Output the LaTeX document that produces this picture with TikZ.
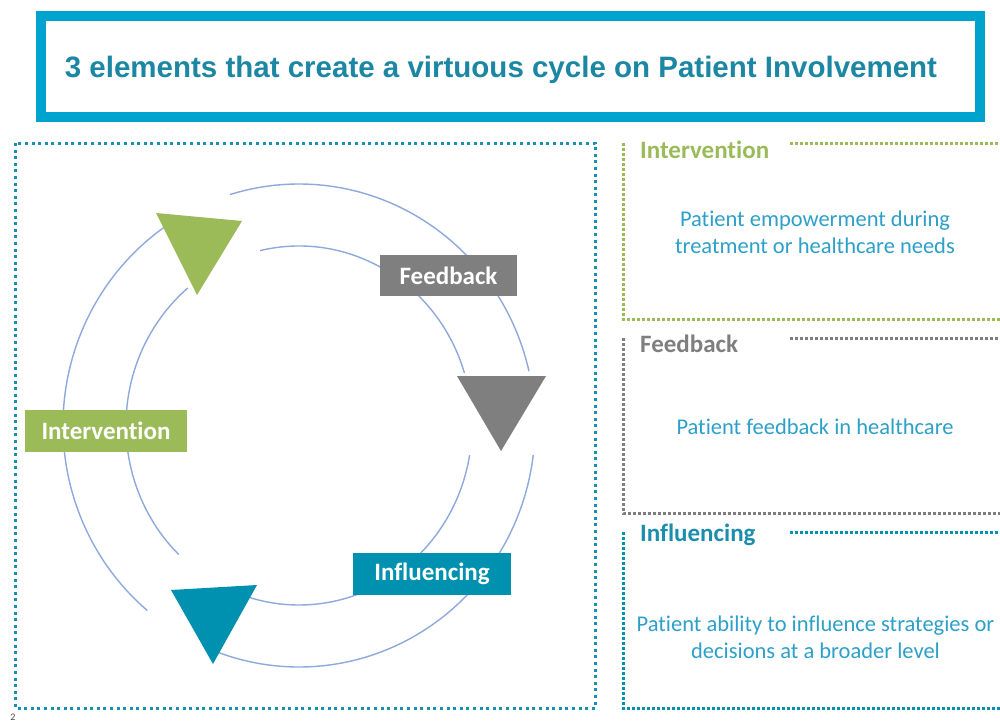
\documentclass[tikz,border=0pt]{standalone}
\usepackage{fontspec}
\setmainfont[Ligatures=NoCommon]{Carlito}
\newfontfamily\arialfont{Liberation Sans}
\definecolor{titleblue}{HTML}{00A2CE}
\definecolor{titletext}{HTML}{1B87A3}
\definecolor{leftdot}{HTML}{1A8FB5}
\definecolor{ringline}{HTML}{8EA9DB}
\definecolor{cgreen}{HTML}{9BBB59}
\definecolor{cgray}{HTML}{7F7F7F}
\definecolor{cteal}{HTML}{0091B0}
\definecolor{bodytext}{HTML}{2DA0C9}
\definecolor{tealhead}{HTML}{1C8EAD}
\tikzset{
  ring/.style={draw=ringline, line width=1.4},
  labelbox/.style={inner sep=0pt, text=white, font=\bfseries\fontsize{25}{30}\selectfont},
  dotline/.style={line width=3, dash pattern=on 2.6 off 2.4},
  leftdots/.style={draw=leftdot, line width=3, dash pattern=on 3 off 3.6},
  heading/.style={anchor=west, inner sep=0pt, font=\bfseries\fontsize{25}{30}\selectfont},
  bodynode/.style={align=center, inner sep=0pt, text=bodytext, font=\fontsize{22.5}{27}\selectfont}
}
\begin{document}
\begin{tikzpicture}[x=1pt,y=-1pt]
\useasboundingbox (0,0) rectangle (1000,725);
\fill[white] (0,0) rectangle (1000,725);

% title
\draw[titleblue, line width=10] (41,16) rectangle (980,117);
\node[font=\arialfont\bfseries\fontsize{29.5}{34}\selectfont, text=titletext] (title) at (501,70) {3 elements that create a virtuous cycle on Patient Involvement};

% left dotted frame
\draw[leftdots] (15,143) rectangle (595,708);

% ring arcs
\coordinate (C) at (299,425.5);
\draw[ring] (C) ++(253:236 and 241.5) arc[start angle=253, end angle=347, x radius=236, y radius=241.5];
\draw[ring] (C) ++(7:236 and 241.5) arc[start angle=7, end angle=110, x radius=236, y radius=241.5];
\draw[ring] (C) ++(130:236 and 241.5) arc[start angle=130, end angle=240, x radius=236, y radius=241.5];
\draw[ring] (C) ++(257:173 and 179.5) arc[start angle=257, end angle=343, x radius=173, y radius=179.5];
\draw[ring] (C) ++(9.5:173 and 179.5) arc[start angle=9.5, end angle=107, x radius=173, y radius=179.5];
\draw[ring] (C) ++(134:173 and 179.5) arc[start angle=134, end angle=230, x radius=173, y radius=179.5];

% triangles
\fill[cgreen] (156,213) -- (242,221) -- (197,295) -- cycle;
\fill[cgray] (457,376) -- (546,376) -- (501,451) -- cycle;
\fill[cteal] (171,590) -- (257,585) -- (213,664) -- cycle;

% labels on ring
\node[labelbox, fill=cgray, minimum width=137, minimum height=41] (fb) at (448.5,275.5) {Feedback};
\node[labelbox, fill=cgreen, minimum width=162, minimum height=42] (iv) at (106,431) {Intervention};
\node[labelbox, fill=cteal, minimum width=158, minimum height=42] (inf) at (432,574) {Influencing};

% right panels
\draw[dotline, draw=cgreen] (790,143) -- (1000,143);
\draw[dotline, draw=cgreen] (623,143) -- (623,319) -- (1002,319);
\node[heading, text=cgreen] (h1) at (640,150) {Intervention};
\node[bodynode] (b1) at (815,232.5) {Patient empowerment during\\treatment or healthcare needs};

\draw[dotline, draw=cgray] (790,338) -- (1000,338);
\draw[dotline, draw=cgray] (623,338) -- (623,513) -- (1002,513);
\node[heading, text=cgray] (h2) at (640,344) {Feedback};
\node[bodynode] (b2) at (815,427) {Patient feedback in healthcare};

\draw[dotline, draw=cteal] (790,532) -- (1000,532);
\draw[dotline, draw=cteal] (623,532) -- (623,708) -- (1002,708);
\node[heading, text=tealhead] (h3) at (640,535) {Influencing};
\node[bodynode] (b3) at (815.5,637.5) {Patient ability to influence strategies or\\decisions at a broader level};

% page number
\node[anchor=north, inner sep=0pt, text=black!70, font=\fontsize{10}{11}\selectfont] (pg) at (13,714) {2};
\end{tikzpicture}
\end{document}
